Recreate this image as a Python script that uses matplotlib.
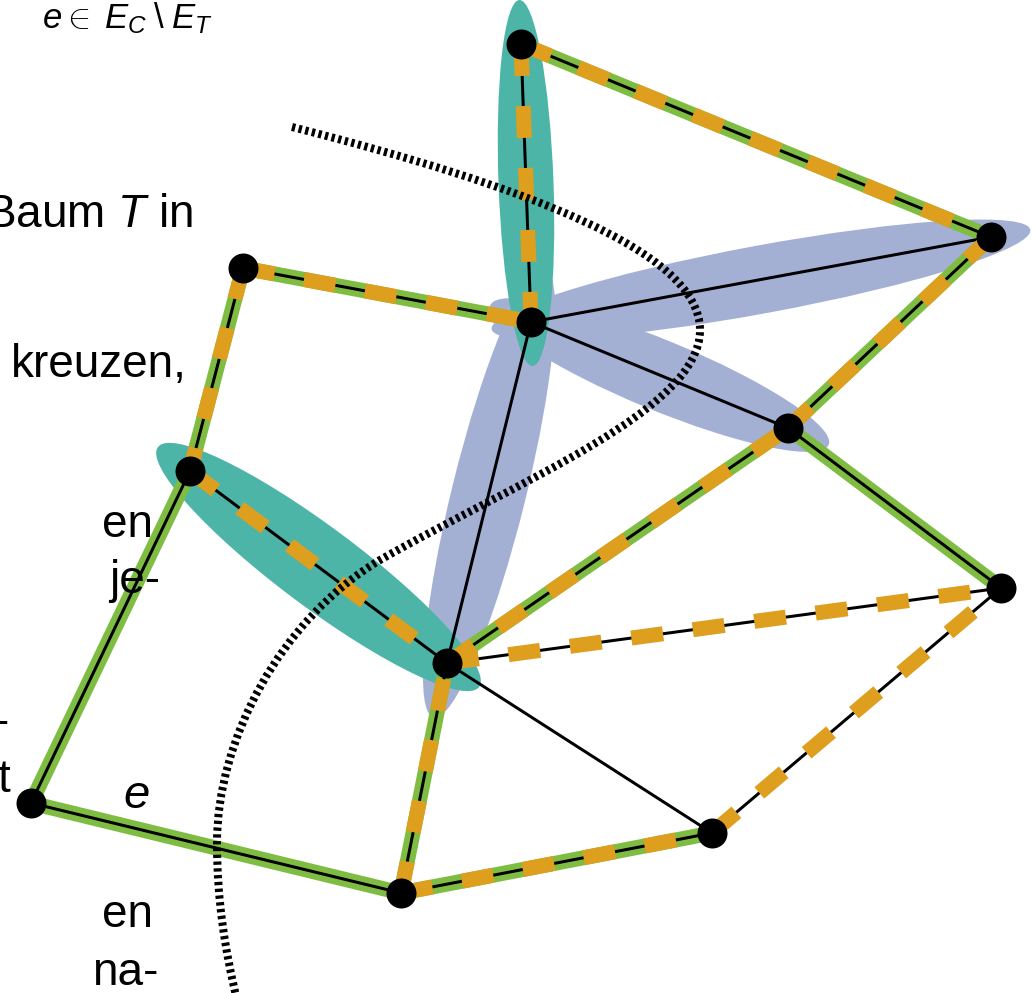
import numpy as np
import matplotlib
matplotlib.use('Agg')
import matplotlib.pyplot as plt
from matplotlib.patches import Ellipse, PathPatch
from matplotlib.path import Path

plt.rcParams['font.family'] = ['Liberation Sans', 'DejaVu Sans']
plt.rcParams['mathtext.fontset'] = 'custom'
plt.rcParams['mathtext.it'] = 'Liberation Sans:italic'
plt.rcParams['mathtext.rm'] = 'Liberation Sans'
plt.rcParams['lines.scale_dashes'] = False

# --- Graph data (image pixel coordinates, y downwards) ---
node_names = ['A', 'B', 'C', 'D', 'E', 'F', 'G', 'H', 'I', 'J', 'K']
node_x = [521, 991, 243, 531, 788, 190, 1001, 447, 31, 712, 401]
node_y = [44, 237, 268, 322, 428, 471, 588, 663, 803, 833, 893]

edges = [('A', 'B'), ('A', 'D'), ('D', 'B'), ('B', 'E'), ('C', 'D'), ('C', 'F'),
         ('D', 'E'), ('D', 'H'), ('E', 'G'), ('H', 'E'), ('F', 'H'), ('F', 'I'),
         ('I', 'K'), ('H', 'G'), ('J', 'G'), ('H', 'J'), ('K', 'H'), ('K', 'J')]
tree_edges = [('A', 'B'), ('B', 'E'), ('C', 'D'), ('C', 'F'), ('E', 'G'), ('H', 'E'),
              ('F', 'I'), ('I', 'K'), ('K', 'H'), ('K', 'J')]
marked_edges = [('A', 'B'), ('A', 'D'), ('B', 'E'), ('C', 'D'), ('C', 'F'), ('H', 'E'),
                ('F', 'H'), ('H', 'G'), ('J', 'G'), ('K', 'H'), ('K', 'J')]
blue_pairs = [('D', 'B'), ('D', 'E'), ('D', 'H')]
teal_pairs = [('A', 'D'), ('F', 'H')]

# dotted cut curve (cubic Bezier control points)
cut_x = [292, 520, 700, 700, 700, 520, 380, 280, 217, 217, 217, 225, 237]
cut_y = [127, 185, 250, 330, 410, 480, 560, 620, 740, 843, 900, 950, 1000]

# text fragments of the surrounding page
text_lines = ['Baum $T$ in', 'kreuzen,', 'en', 'je-', '-', 't', 'en', 'na-']
text_right = [193, 187, 153, 160, 9, 10, 153, 158]
text_base = [227, 377, 537, 593, 735, 792, 927, 985]

GREEN = '#7EBD42'
ORANGE = '#DE9E1E'
TEAL = '#4DB5A7'
BLUE = '#A3B0D4'

pos = {n: (x, y) for n, x, y in zip(node_names, node_x, node_y)}
px = 72 / 100  # points per pixel

fig = plt.figure(figsize=(10.36, 9.93), dpi=100)
ax = fig.add_axes([0, 0, 1, 1])
ax.set_xlim(0, 1036)
ax.set_ylim(993, 0)
ax.axis('off')


def add_ellipse(p, q, pad, width, color):
    (x1, y1), (x2, y2) = pos[p], pos[q]
    length = np.hypot(x2 - x1, y2 - y1) + 2 * pad
    ang = np.degrees(np.arctan2(y2 - y1, x2 - x1))
    ax.add_patch(Ellipse(((x1 + x2) / 2, (y1 + y2) / 2), length, width, angle=ang,
                         facecolor=color, edgecolor='none', zorder=1))


for (p, q), pad, w in zip(blue_pairs, [40, 44, 56], [68, 70, 74]):
    add_ellipse(p, q, pad, w, BLUE)
for (p, q), pad, w in zip(teal_pairs, [44, 40], [55, 80]):
    add_ellipse(p, q, pad, w, TEAL)

for p, q in tree_edges:
    ax.plot([pos[p][0], pos[q][0]], [pos[p][1], pos[q][1]], color=GREEN,
            lw=15 * px, solid_capstyle='butt', zorder=2)
for p, q in edges:
    ax.plot([pos[p][0], pos[q][0]], [pos[p][1], pos[q][1]], color='black',
            lw=3 * px, solid_capstyle='butt', zorder=3)
for p, q in marked_edges:
    ax.plot([pos[p][0], pos[q][0]], [pos[p][1], pos[q][1]], color=ORANGE,
            lw=15 * px, dashes=(32 * px, 30 * px), dash_capstyle='butt', zorder=4)

codes = [Path.MOVETO] + [Path.CURVE4] * (len(cut_x) - 1)
cut = Path(np.column_stack([cut_x, cut_y]), codes)
ax.add_patch(PathPatch(cut, facecolor='none', edgecolor='black', lw=8 * px,
                       linestyle=(0, (3.3 * px, 3.5 * px)), capstyle='butt', zorder=5))

ax.scatter(node_x, node_y, s=(30 * px) ** 2, color='black', zorder=6, linewidths=0)

# labels
ax.text(137, 808, 'e', fontsize=34, fontstyle='italic', ha='center', va='baseline', zorder=7)
ax.text(42, 28, r'$e{\in}\;E_C\;\backslash\;E_T$', fontsize=25, ha='left', va='baseline')
for s, xr, yb in zip(text_lines, text_right, text_base):
    ax.text(xr, yb, s, fontsize=33, ha='right', va='baseline')

fig.savefig('out.png', dpi=100)
